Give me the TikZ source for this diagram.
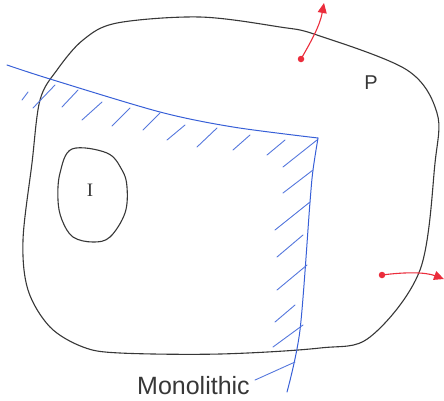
\documentclass[tikz,border=0pt]{standalone}
\usepackage{fontspec}
\setmainfont{Liberation Sans}
\newfontfamily\serifI{Liberation Serif}
\usetikzlibrary{arrows.meta}
\definecolor{pen}{RGB}{55,55,55}
\definecolor{bluepen}{RGB}{55,95,215}
\definecolor{redpen}{RGB}{235,45,60}
\tikzset{
  outline/.style={draw=pen, line width=1.1pt, line join=round},
  boundary/.style={draw=bluepen, line width=1pt, line cap=round},
  hatch/.style={draw=bluepen!85, line width=0.9pt, line cap=round},
  motion/.style={draw=redpen, line width=1.1pt, -{Triangle[length=10pt,width=9pt]}},
  dotmark/.style={fill=redpen, draw=none, circle, minimum size=6.5pt, inner sep=0pt},
  lbl/.style={text=pen, inner sep=0pt}
}
\begin{document}
\begin{tikzpicture}[x=1pt,y=-1pt]
\useasboundingbox (0,0) rectangle (444,400);
% region P
\draw[outline] plot[smooth cycle, tension=0.55] coordinates {
 (83,40) (117,23) (200,17) (280,27) (317,35) (407,70) (437,113) (435,163)
 (420,270) (370,337) (320,348) (220,354) (120,353) (83,347) (50,327)
 (28,290) (23,240) (32,163) (40,100) (57,70)};
% region I
\draw[outline] plot[smooth cycle, tension=0.6] coordinates {
 (72,149) (107,153) (122,170) (127,187) (125,213) (110,237) (93,242)
 (73,237) (62,220) (58,200) (60,173)};
% monolithic boundary
\draw[boundary] plot[smooth, tension=0.5] coordinates {(7,65) (50,79) (160,112) (233,127) (318,138)};
\draw[boundary] plot[smooth, tension=0.5] coordinates {(318,138) (313,170) (310,202) (300,330) (287,392)};
% hatching
\foreach \a/\b/\c/\d in {22/100/28/92, 33/108/55/85, 62/107/78/90, 82/120/102/102,
  112/126/130/108, 143/130/160/113, 167/140/185/125, 197/147/217/128,
  233/150/250/135, 267/155/285/140, 283/167/317/140, 283/193/313/170,
  275/230/310/202, 277/257/303/235, 277/290/307/265, 275/322/295/305,
  273/347/303/325}
  \draw[hatch] (\a,\b) -- (\c,\d);
% labels
\node[lbl, font=\fontsize{20}{20}\selectfont] (P) at (371,83) {P};
\node[lbl, font=\serifI\fontsize{19}{19}\selectfont] (I) at (90,190) {I};
\node[lbl, font=\fontsize{25}{25}\selectfont, anchor=base west] (mono) at (137,394) {Monolithic};
\coordinate (lead) at (295,362);
\draw[hatch] (mono.east) ++(5,-5) coordinate (m1) -- (lead);
% motion arrows
\node[dotmark] (d1) at (301,59) {};
\coordinate (t1) at (324,3);
\draw[motion] (d1.center) .. controls (312,40) and (320,25) .. (t1);
\node[dotmark] (d2) at (382,275) {};
\coordinate (t2) at (444,279);
\draw[motion] (d2.center) .. controls (405,272) and (425,272) .. (t2);
\end{tikzpicture}
\end{document}
